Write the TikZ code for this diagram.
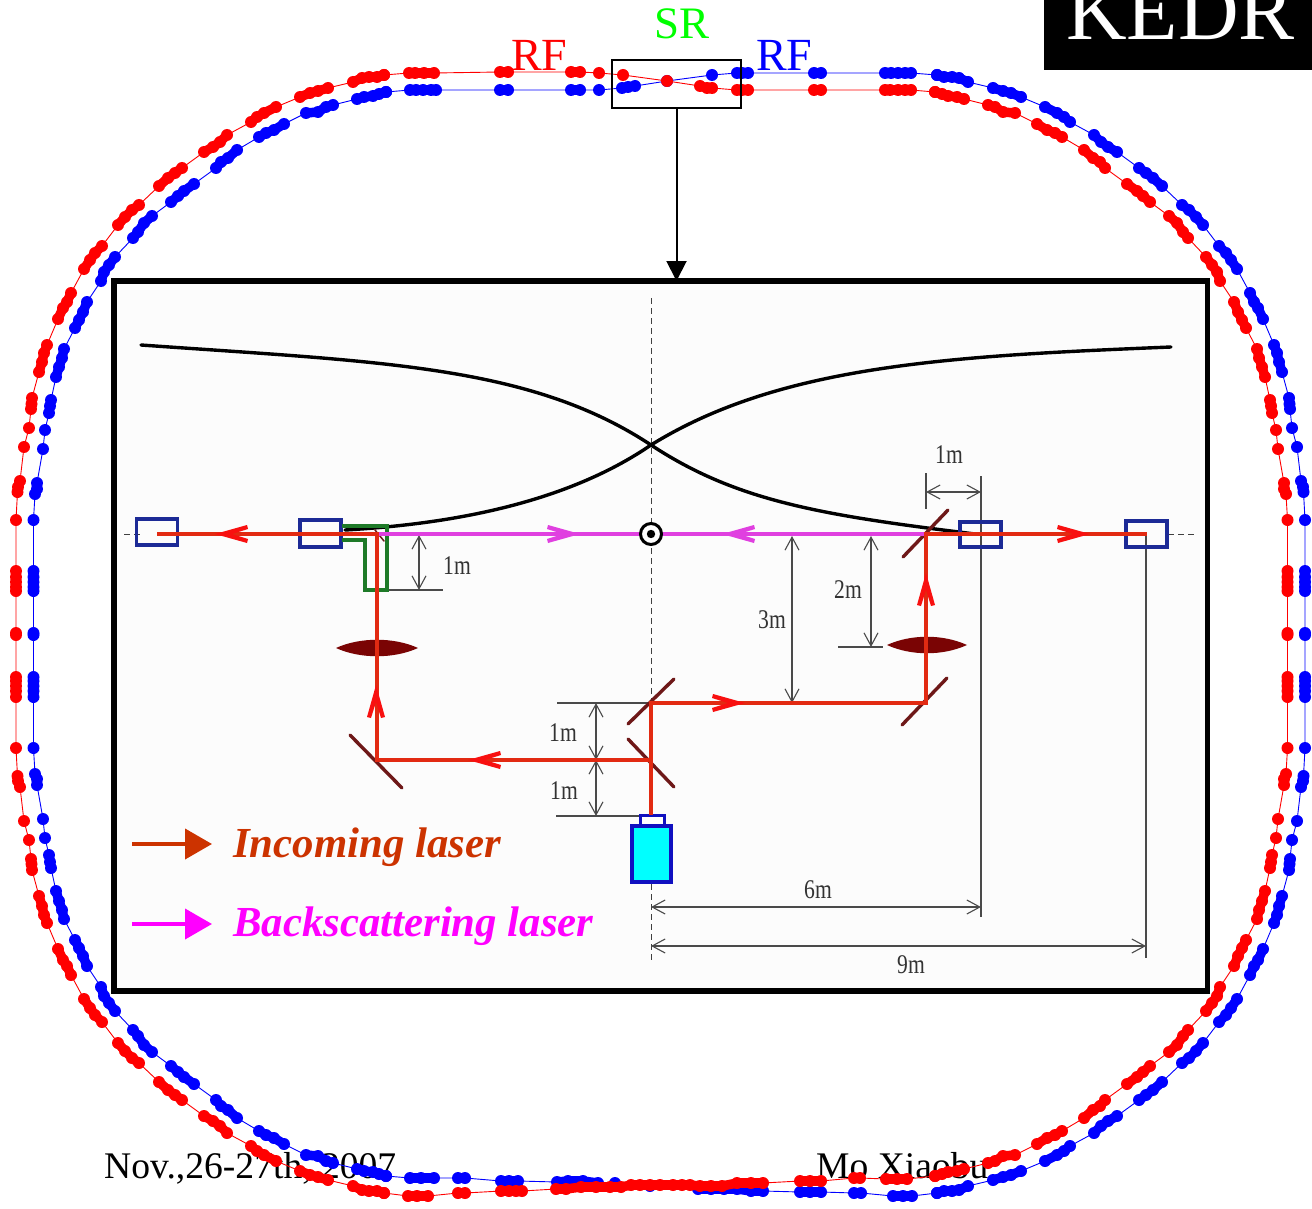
\documentclass[tikz,border=0pt]{standalone}
\usepackage{fontspec}
\setmainfont{Liberation Serif}
\newfontfamily\dimfont[FakeStretch=0.8]{Liberation Serif}
\usetikzlibrary{arrows.meta}
\definecolor{laserred}{HTML}{E22A12}
\definecolor{headred}{HTML}{F81010}
\definecolor{lasermag}{HTML}{E040E0}
\definecolor{mirrorc}{HTML}{6E1818}
\definecolor{lensc}{HTML}{7A0404}
\definecolor{qblue}{HTML}{1C2A96}
\definecolor{pipegreen}{HTML}{1E7A28}
\definecolor{dimc}{HTML}{4A4A4A}
\definecolor{legred}{HTML}{CC3300}
\definecolor{srgreen}{HTML}{00FF00}
\definecolor{puremag}{HTML}{FF00FF}
\definecolor{purecyan}{HTML}{00FFFF}
\definecolor{srcblue}{HTML}{1010C0}
\definecolor{ringred}{HTML}{FF0000}
\definecolor{ringblue}{HTML}{0000FF}
\def\outerq{16/591,16/587,16/582,16/577,16/571,16/520,17.5/492,18/487,20/481,24/447,29/428,31/409,31.5/404,32/398,39/372,42/362,44/353,47/345,58/319,63/308,67/302,71/293,84/269,90/260,95/253,102/246,118/225,125/217,132/210,139/205,159/186,168/178,175/173,182/168,204/152,213/147,220/142,227/135,251/122,257/117,264/113,276/107,300/97,310/93,318/91,328/88,353/82,362/78,369/77,377/77,384/75}
\def\innerq{1287.5/591,1287.5/587,1287.5/582,1287.5/577,1287.5/571,1287.5/520,1286/494,1284/489,1284/483,1278/449,1276/430,1272/413,1271/406,1270/400,1265/377,1262/367,1259/358,1257/349,1246/328,1242/320,1238/312,1234/302,1220/281,1217/272,1212/265,1206/257,1188/238,1183/232,1177/223,1169/216,1150/202,1143/196,1137/191,1127/184,1105/168,1100/162,1093/158,1084/150,1062/137,1055/133,1047/130,1037/124,1015/113,1003/112,995/107,988/105,964/99,957/97,948/96,942/94,935/92}
\def\redtop{409/73,415/73,424/73,434/73,500/72,508/72,571/72,580/72,599/73,623/75,667/81,700/86,707/88,712/88,737/90,742/90,748/90,814/90,821/90,885/90,890/90,898/90,905/90,911/90,935/92}
\def\bluetop{410/90,416/90,423/90,431/90,436/90,500/90,508/90,571/90,580/90,599/90,622/88,628/87,635/86,667/81,712/75,737/73,742/73,748/73,814/73,821/73,885/73,891/73,898/73,905/73,911/73,937/75}
\def\redbot{408/1196,417/1196,428/1196,458/1193,465/1193,501/1191,509/1191,516/1191,522/1191,556/1189,566/1189,581/1187,596/1187,610/1187,621/1187,631/1185,640/1185,650/1185,660/1185,673/1185,682/1185,690/1185,700/1186,711/1186,722/1186,737/1183,751/1183,763/1183,800/1181,810/1181,821/1181,854/1178,860/1178,886/1179,897/1179,907/1179,935/1176}
\def\bluebot{410/1178,421/1178,434/1178,458/1178,465/1178,501/1181,509/1181,518/1181,557/1182,568/1181,583/1181,598/1183,615/1183,650/1186,698/1189,711/1189,724/1189,737/1189,751/1191,763/1191,800/1192,810/1192,821/1192,854/1193,861/1193,893/1196,903/1196,912/1196,937/1193}
% colour, start point x, start point y, list
\newcommand\ringpart[4]{%
  \draw[#1,line width=0.9pt] (#2,#3) foreach \x/\y in #4 {-- (\x,\y)};
  \fill[#1] (#2,#3) circle[radius=6];
  \foreach \x/\y [remember=\x as \lx (initially #2), remember=\y as \ly (initially #3)] in #4 {%
    \fill[#1] (\x,\y) circle[radius=6];
    \pgfmathtruncatemacro\nearby{veclen(\x-\lx,\y-\ly)<16}
    \ifnum\nearby=1 \draw[#1,line width=9.5pt] (\lx,\ly) -- (\x,\y);\fi
  }
}
\newcommand\laserhead[4]{% tip x, tip y, angle, colour
  \fill[#4,shift={(#1,#2)},rotate=#3] (0,0) -- (-32,9) -- (-33,5) -- (-17,0) -- (-33,-5) -- (-32,-9) -- cycle;
}
\tikzset{
  mirrorpart/.style={draw=mirrorc,line width=3.4pt,line cap=round},
  laserbeam/.style={draw=laserred,line width=3.8pt},
  magbeam/.style={draw=lasermag,line width=3.8pt},
  dimline/.style={draw=dimc,line width=1.1pt},
  dimarrow/.style={draw=dimc,line width=1.1pt,{Straight Barb[length=13pt,width=14pt]}-{Straight Barb[length=13pt,width=14pt]}},
  dimlabel/.style={inner sep=0pt,text=black!80,font=\dimfont\fontsize{27}{27}\selectfont},
  quadbox/.style={draw=qblue,line width=3.4pt,inner sep=0pt,outer sep=0pt},
  bigtext/.style={inner sep=0pt,anchor=base west,font=\fontsize{46}{46}\selectfont},
  foottext/.style={inner sep=0pt,anchor=base west,text=black,font=\fontsize{37.6}{37.6}\selectfont},
  legtext/.style={inner sep=0pt,anchor=base west,font=\fontsize{42.8}{42.8}\selectfont\bfseries\itshape},
  axisdash/.style={draw=black!75,line width=0.9pt,dash pattern=on 6pt off 4pt},
  curvebeam/.style={draw=black,line width=3.4pt,line cap=round},
  lens/.style={fill=lensc},
}
\begin{document}
\begin{tikzpicture}[x=1pt,y=-1pt]
\useasboundingbox (0,0) rectangle (1312,1209);
% footer text lies under the ring beads
\node[foottext] (date) at (104,1178) {Nov.,26-27th, 2007};
\node[foottext] (author) at (816,1178) {Mo Xiaobu};
% blue ring
\begin{scope}[cm={-1,0,0,1,(1321,0)}]
  \ringpart{ringblue}{1287.5}{633}{\innerq}
  \ringpart{ringblue}{16}{633}{\outerq}
\end{scope}
\begin{scope}[cm={-1,0,0,-1,(1321,1268)}]
  \ringpart{ringblue}{1287.5}{633}{\innerq}
  \ringpart{ringblue}{16}{633}{\outerq}
\end{scope}
\ringpart{ringblue}{386}{92}{\bluetop}
\ringpart{ringblue}{386}{1176}{\bluebot}
% red ring
\ringpart{ringred}{16}{633}{\outerq}
\ringpart{ringred}{1287.5}{633}{\innerq}
\begin{scope}[cm={1,0,0,-1,(0,1268)}]
  \ringpart{ringred}{16}{633}{\outerq}
  \ringpart{ringred}{1287.5}{633}{\innerq}
\end{scope}
\ringpart{ringred}{384}{75}{\redtop}
\ringpart{ringred}{384}{1193}{\redbot}
% top labels
\node[fill=black,minimum width=268pt,minimum height=70pt,inner sep=0pt,outer sep=0pt] (kedrbox) at (1178,35) {};
\node[inner sep=0pt,anchor=base west,text=white,font=\fontsize{84}{84}\selectfont] (kedr) at (1066,40) {KEDR};
\node[bigtext,text=ringred] (rfred) at (511,71) {RF};
\node[bigtext,text=srgreen,font=\fontsize{45}{45}\selectfont] (srlabel) at (654,39) {SR};
\node[bigtext,text=ringblue] (rfblue) at (756,71) {RF};
\node[draw=black,line width=2pt,minimum width=129pt,minimum height=48pt,inner sep=0pt,outer sep=0pt] (srbox) at (676.5,84) {};
% inset
\node[draw=black,fill=white!99!black,line width=5.5pt,minimum width=1093.5pt,minimum height=710pt,inner sep=0pt,outer sep=0pt] (inset) at (660.75,636) {};
\draw[black,line width=2pt,-{Triangle[length=20pt,width=20pt]}] (srbox.south) -- (srbox.south |- inset.north);
% axes
\draw[axisdash] (651,298) -- (651,522);
\draw[axisdash] (651,548) -- (651,702);
\draw[axisdash] (651,884) -- (651,960);
\draw[axisdash] (124,534) -- (140,534);
\draw[axisdash] (1168,534) -- (1196,534);
% dimension lines
\draw[dimline] (926,473) -- (926,509);
\draw[dimline] (981,476) -- (981,917);
\draw[dimline] (1146,534) -- (1146,958);
\draw[dimline] (388,590) -- (443,590);
\draw[dimline] (838,647) -- (883,647);
\draw[dimline] (557,703) -- (648,703);
\draw[dimline] (556,816) -- (640,816);
\draw[dimarrow] (926,492) -- (981,492);
\draw[dimarrow] (419,535) -- (419,590);
\draw[dimarrow] (871,536) -- (871,647);
\draw[dimarrow] (792,536) -- (792,703);
\draw[dimarrow] (596,703) -- (596,760);
\draw[dimarrow] (596,760) -- (596,816);
\draw[dimarrow] (651,907) -- (981,907);
\draw[dimarrow] (651,946) -- (1146,946);
\node[dimlabel] (dima) at (949,455) {1m};
\node[dimlabel] (dimb) at (457,566) {1m};
\node[dimlabel] (dimc) at (848,590) {2m};
\node[dimlabel] (dimd) at (772,620) {3m};
\node[dimlabel] (dime) at (563,733) {1m};
\node[dimlabel] (dimf) at (564,791) {1m};
\node[dimlabel] (dimg) at (818,890) {6m};
\node[dimlabel] (dimh) at (911,965) {9m};
% envelopes
\draw[curvebeam] (141,345) .. controls (380,362) and (530,365) .. (651,445) .. controls (736,501) and (820,515) .. (975,534);
\draw[curvebeam] (1171,347) .. controls (950,356) and (780,365) .. (651,445) .. controls (575,497) and (470,523) .. (345,530);
% quadrupole boxes
\node[quadbox,minimum width=41pt,minimum height=26pt] (qa) at (157,532) {};
\node[quadbox,minimum width=41pt,minimum height=27pt] (qb) at (320.5,533.5) {};
\node[quadbox,minimum width=41pt,minimum height=25pt] (qc) at (980.5,534.5) {};
\node[quadbox,minimum width=41pt,minimum height=26pt] (qd) at (1146.5,534) {};
% green pipe
\draw[pipegreen,line width=3.4pt,line join=miter] (342,526) -- (387,526) -- (387,590) -- (365,590) -- (365,540) -- (342,540);
% lenses
\fill[lens] (336,648) .. controls (360,637) and (394,637) .. (418,648) .. controls (394,659) and (360,659) .. cycle;
\fill[lens] (887,645) .. controls (911,634) and (943,634) .. (967,645) .. controls (943,656) and (911,656) .. cycle;
% mirrors
\draw[mirrorpart] (903,557) -- (948,510);
\draw[mirrorpart] (902,725) -- (947,678);
\draw[mirrorpart] (628,724) -- (674,679);
\draw[mirrorpart] (628,739) -- (674,787);
\draw[mirrorpart] (350,735) -- (402,788);
\draw[mirrorpart,line width=1.5pt] (375,530) -- (384,541);
% laser source
\node[draw=srcblue,fill=white,line width=3pt,minimum width=24pt,minimum height=11pt,inner sep=0pt,outer sep=0pt] (neck) at (652,820.5) {};
\node[draw=srcblue,fill=purecyan,line width=3.2pt,minimum width=39pt,minimum height=56pt,inner sep=0pt,outer sep=0pt] (source) at (651.5,854) {};
% beam points
\coordinate (splitb) at (651,760);
\coordinate (splitt) at (651,703);
\coordinate (mleft) at (377,760);
\coordinate (mright) at (926,703);
\coordinate (ipl) at (377,534);
\coordinate (ipr) at (926,534);
% beams
\draw[magbeam] (ipl) -- (ipr);
\draw[laserbeam] (neck.north -| splitb) -- (splitt) -- (mright) -- (ipr) -- (ipr -| qd.center);
\draw[laserbeam] (splitb) -- (mleft) -- (ipl) -- (ipl -| qa.center);
% arrowheads
\laserhead{215}{534}{180}{headred}
\laserhead{1090}{534}{0}{headred}
\laserhead{926}{573}{90}{headred}
\laserhead{745}{703}{0}{headred}
\laserhead{468}{760}{180}{headred}
\laserhead{376}{685}{90}{headred}
\laserhead{580}{534}{0}{lasermag}
\laserhead{722}{534}{180}{lasermag}
% interaction point
\node[circle,draw=black,fill=white,line width=3pt,minimum size=21pt,inner sep=0pt,outer sep=0pt] (ip) at (651,534) {};
\fill[black] (ip.center) circle[radius=4.2];
% legend
\coordinate (lega) at (132,844);
\coordinate (legb) at (212,844);
\coordinate (legc) at (132,924);
\coordinate (legd) at (212,924);
\draw[legred,line width=4pt,-{Triangle[length=27pt,width=30pt]}] (lega) -- (legb);
\draw[puremag,line width=4pt,-{Triangle[length=27pt,width=30pt]}] (legc) -- (legd);
\node[legtext,text=legred] (inclabel) at (233,857) {Incoming laser};
\node[legtext,text=puremag] (backlabel) at (233,936) {Backscattering laser};
\end{tikzpicture}
\end{document}
